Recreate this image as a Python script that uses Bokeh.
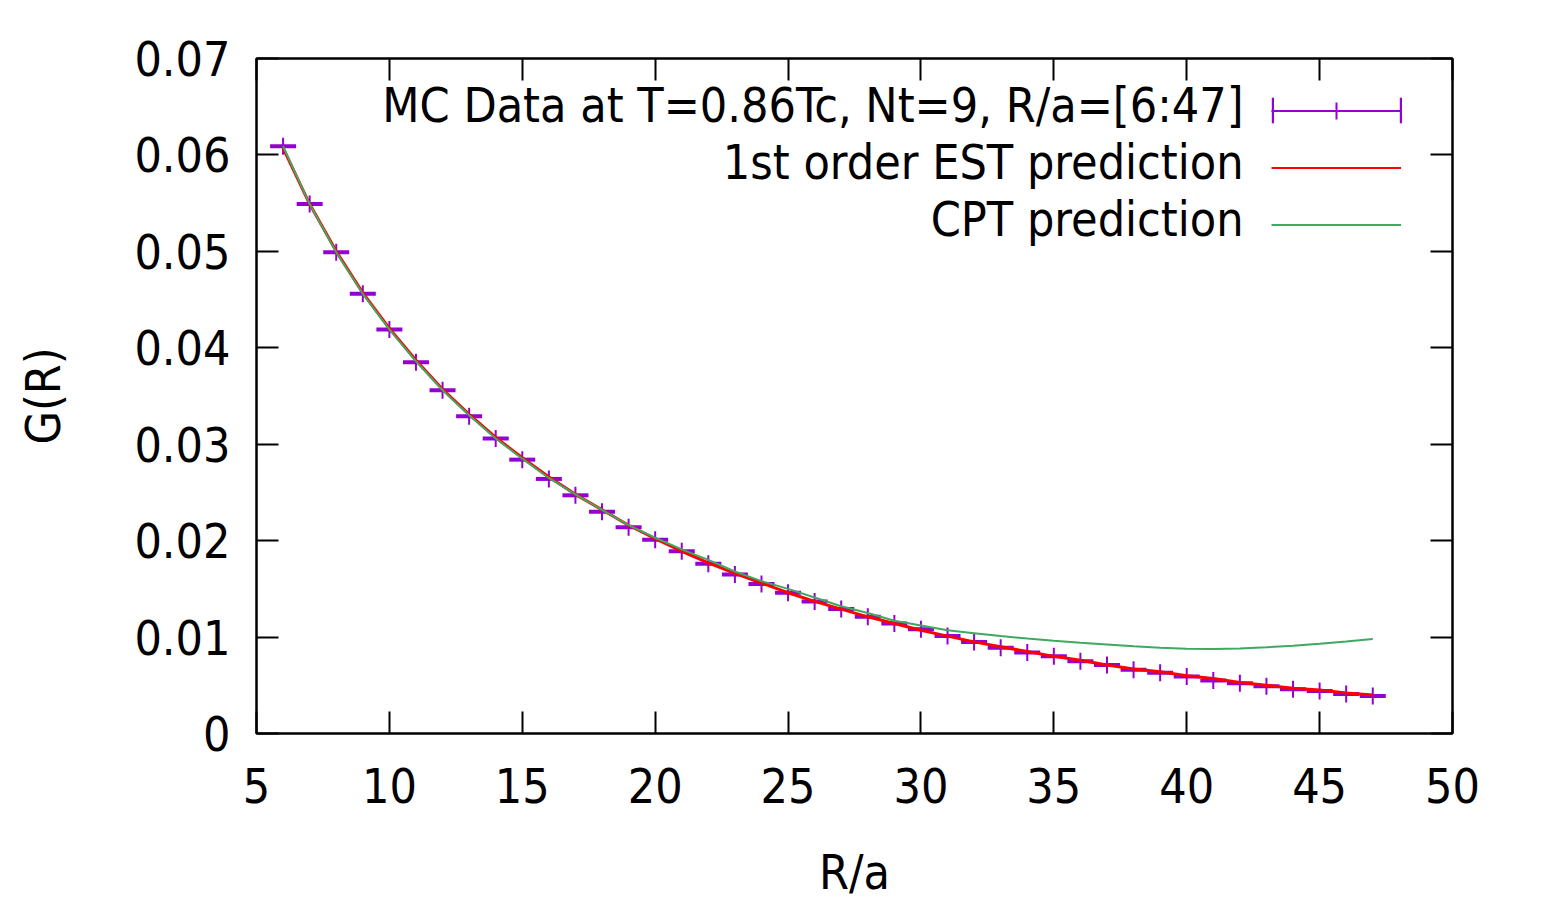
from bokeh.plotting import figure
from bokeh.models import (Range1d, LinearAxis, FixedTicker, Legend, LegendItem,
                          Label, PrintfTickFormatter, CustomLabelingPolicy)
from bokeh.embed import file_html
from bokeh.resources import INLINE

# ---------------- data ----------------
R_mc = list(range(6, 48))
G_mc = [0.0609, 0.0549, 0.0499, 0.0456, 0.0419, 0.0385, 0.0356, 0.0329, 0.0306, 0.0284,
        0.0264, 0.0247, 0.0230, 0.0214, 0.0201, 0.0189, 0.0176, 0.0165, 0.0155, 0.0146,
        0.0137, 0.0129, 0.0121, 0.0114, 0.0108, 0.0101, 0.0095, 0.0089, 0.0084, 0.0080,
        0.0075, 0.0071, 0.0066, 0.0063, 0.0059, 0.0055, 0.0052, 0.0049, 0.0046, 0.0044,
        0.0041, 0.0039]

R_est = list(range(6, 48))
G_est = [0.0607, 0.0549, 0.0500, 0.0457, 0.0420, 0.0387, 0.0357, 0.0331, 0.0307, 0.0286,
         0.0266, 0.0248, 0.0232, 0.0216, 0.0202, 0.0189, 0.0177, 0.0166, 0.0156, 0.0146,
         0.0137, 0.0129, 0.0121, 0.0114, 0.0107, 0.0101, 0.0095, 0.0090, 0.0085, 0.0080,
         0.0076, 0.0071, 0.0067, 0.0064, 0.0060, 0.0057, 0.0053, 0.0050, 0.0047, 0.0045,
         0.0042, 0.0040]

R_cpt = list(range(6, 48))
G_cpt = [0.0609, 0.0549, 0.0499, 0.0456, 0.0419, 0.0386, 0.0356, 0.0330, 0.0306, 0.0285,
         0.0265, 0.0248, 0.0232, 0.0216, 0.0203, 0.0191, 0.0180, 0.0168, 0.0158, 0.0150,
         0.0141, 0.0132, 0.0125, 0.0117, 0.0112, 0.0107, 0.0104, 0.0101, 0.00985, 0.00963,
         0.00942, 0.00924, 0.00905, 0.00889, 0.00880, 0.00877, 0.00882, 0.00894, 0.00911,
         0.00932, 0.00955, 0.00980]

x_ticks = [5, 10, 15, 20, 25, 30, 35, 40, 45, 50]
x_tick_labels = ["5", "10", "15", "20", "25", "30", "35", "40", "45", "50"]
y_ticks = [0, 0.01, 0.02, 0.03, 0.04, 0.05, 0.06, 0.07]
y_tick_labels = ["0", "0.01", "0.02", "0.03", "0.04", "0.05", "0.06", "0.07"]

series_labels = ["MC Data at T=0.86Tc, Nt=9, R/a=[6:47]",
                 "1st order EST prediction",
                 "CPT prediction"]
x_label = "R/a"
y_label = "G(R)"

# ---------------- style ----------------
FONT = "DejaVu Sans Condensed"
FS = "48px"
PURPLE = "#9400D3"
RED = "#FF0000"
GREEN = "#40A860"
NAN = float("nan")

p = figure(frame_width=1196, frame_height=675,
           x_range=Range1d(5, 50), y_range=Range1d(0, 0.07),
           output_backend="svg", toolbar_location=None,
           min_border_left=256, min_border_top=58,
           min_border_right=80, min_border_bottom=150,
           background_fill_color="white", border_fill_color="white")

p.xgrid.grid_line_color = None
p.ygrid.grid_line_color = None
p.outline_line_color = "black"
p.outline_line_width = 2

p.xaxis.ticker = FixedTicker(ticks=x_ticks)
p.yaxis.ticker = FixedTicker(ticks=y_ticks)
p.xaxis.major_label_overrides = dict(zip(x_ticks, x_tick_labels))
p.yaxis.formatter = PrintfTickFormatter(format="%g")
p.yaxis.major_label_overrides = dict(zip(y_ticks, y_tick_labels))
p.xaxis.axis_label = x_label
p.yaxis.axis_label = y_label

def style_axis(ax):
    ax.major_tick_in = 22
    ax.major_tick_out = 0
    ax.minor_tick_in = 0
    ax.minor_tick_out = 0
    ax.major_tick_line_width = 2
    ax.major_tick_line_color = "black"
    ax.axis_line_width = 2
    ax.axis_line_color = "black"
    ax.major_label_text_font = FONT
    ax.major_label_text_font_size = FS
    ax.major_label_text_color = "black"
    ax.axis_label_text_font = FONT
    ax.axis_label_text_font_size = FS
    ax.axis_label_text_font_style = "normal"
    ax.axis_label_text_color = "black"

style_axis(p.xaxis[0])
style_axis(p.yaxis[0])
p.xaxis[0].major_label_standoff = 34
p.yaxis[0].major_label_standoff = 26
p.xaxis[0].axis_label_standoff = 38
p.yaxis[0].axis_label_standoff = 60

# mirrored tick marks on top and right, no labels
for ticks, side in ((x_ticks, "above"), (y_ticks, "right")):
    ax = LinearAxis(ticker=FixedTicker(ticks=ticks),
                    major_label_policy=CustomLabelingPolicy(code="return []"))
    style_axis(ax)
    ax.major_label_standoff = 0
    p.add_layout(ax, side)

# ---------------- glyphs ----------------
caps = p.scatter(R_mc, G_mc, marker="dash", size=26, line_color=PURPLE, line_width=4)
cross = p.scatter(R_mc, G_mc, marker="cross", size=17, line_color=PURPLE, line_width=2)
est = p.line(R_est, G_est, line_color=RED, line_width=3)
cpt = p.line(R_cpt, G_cpt, line_color=GREEN, line_width=2)

# legend-only helpers (no visible data)
leg_line = p.line(x=[NAN], y=[NAN], line_color=PURPLE, line_width=2)
leg_red = p.line(x=[NAN], y=[NAN], line_color=RED, line_width=2)
leg_cap = p.vbar(x=[NAN], top=[NAN], width=1, fill_color=PURPLE, line_color=None)

legend = Legend(items=[LegendItem(label="", renderers=[leg_line, cross]),
                       LegendItem(label="", renderers=[leg_red]),
                       LegendItem(label="", renderers=[cpt])],
                location=(1015, 487.5), glyph_width=130, glyph_height=43, spacing=14,
                padding=0, margin=0, border_line_color=None, background_fill_alpha=0,
                label_width=0, label_standoff=0, label_height=0, label_text_font_size="1px")
p.add_layout(legend)

for cx in (1015, 1143):
    capleg = Legend(items=[LegendItem(label="", renderers=[leg_cap])],
                    location=(cx, 607), glyph_width=3, glyph_height=32, spacing=0,
                    padding=0, margin=0, border_line_color=None, background_fill_alpha=0,
                    label_width=0, label_standoff=0, label_height=0,
                    label_text_font_size="1px")
    p.add_layout(capleg)

for txt, ty in zip(series_labels, (629, 572, 515)):
    p.add_layout(Label(x=987, y=ty, x_units="screen", y_units="screen", text=txt,
                       text_align="right", text_baseline="alphabetic",
                       text_font=FONT, text_font_size=FS, text_color="black"))

open("out.html", "w").write(file_html(p, INLINE))
